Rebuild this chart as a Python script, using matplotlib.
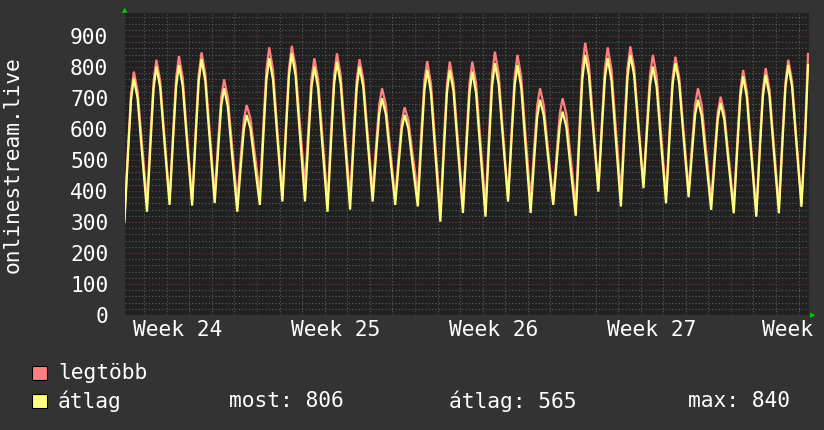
import matplotlib
matplotlib.use("Agg")
import matplotlib.pyplot as plt
import matplotlib.transforms as mtransforms
from matplotlib.patches import Rectangle

# samples taken at these hours of each day, days counted from the week 25 start
hours = [3, 7, 10, 13, 17, 21]
first_day = -6

# legtöbb (max) per day: trough, 7h, 10h, peak, 17h, 21h
max_rows = [
    [310, 548, 714, 785, 722, 575],
    [365, 594, 754, 823, 755, 597],
    [371, 603, 765, 835, 765, 602],
    [368, 608, 775, 847, 778, 617],
    [387, 574, 704, 760, 701, 563],
    [366, 522, 630, 677, 634, 535],
    [393, 628, 793, 863, 791, 622],
    [380, 624, 795, 868, 800, 641],
    [414, 621, 766, 828, 759, 597],
    [366, 605, 772, 844, 774, 610],
    [375, 600, 758, 825, 760, 609],
    [393, 562, 680, 731, 678, 554],
    [376, 523, 626, 670, 628, 530],
    [390, 605, 755, 819, 746, 576],
    [333, 575, 744, 817, 748, 586],
    [355, 586, 748, 817, 747, 584],
    [350, 600, 774, 849, 778, 612],
    [375, 607, 769, 839, 768, 603],
    [366, 549, 676, 731, 676, 549],
    [366, 533, 649, 699, 647, 525],
    [350, 614, 799, 878, 808, 644],
    [409, 636, 795, 863, 792, 627],
    [390, 628, 795, 866, 799, 643],
    [420, 630, 776, 839, 771, 612],
    [385, 609, 766, 833, 768, 617],
    [400, 566, 681, 731, 676, 549],
    [366, 535, 653, 704, 651, 527],
    [350, 570, 724, 790, 721, 562],
    [333, 565, 727, 796, 729, 573],
    [350, 587, 752, 823, 754, 592],
    [360, 602, 842],
]

# átlag (average) per day
avg_rows = [
    [300, 532, 694, 763, 699, 548],
    [333, 567, 731, 801, 734, 578],
    [355, 581, 738, 806, 738, 580],
    [353, 589, 754, 825, 755, 593],
    [361, 546, 676, 731, 671, 532],
    [333, 489, 598, 645, 602, 500],
    [355, 592, 757, 828, 759, 597],
    [366, 605, 772, 844, 772, 605],
    [366, 584, 736, 801, 731, 567],
    [333, 575, 744, 817, 745, 579],
    [340, 571, 732, 801, 736, 584],
    [366, 533, 649, 699, 647, 527],
    [355, 500, 602, 645, 601, 498],
    [350, 570, 724, 790, 717, 546],
    [301, 546, 717, 790, 721, 560],
    [329, 557, 717, 785, 715, 551],
    [317, 565, 738, 812, 745, 589],
    [366, 586, 740, 806, 734, 568],
    [329, 512, 639, 694, 643, 525],
    [355, 506, 611, 656, 606, 488],
    [320, 580, 761, 839, 773, 619],
    [398, 613, 764, 828, 756, 589],
    [350, 595, 766, 839, 775, 624],
    [409, 605, 742, 801, 735, 581],
    [360, 586, 744, 812, 747, 596],
    [380, 537, 647, 694, 641, 517],
    [339, 511, 631, 683, 630, 506],
    [328, 549, 703, 769, 701, 543],
    [317, 546, 705, 774, 707, 551],
    [328, 567, 734, 806, 737, 578],
    [349, 578, 806],
]

week_labels = ["Week 24", "Week 25", "Week 26", "Week 27"]
week_centers = [-3.5, 3.5, 10.5, 17.5]
last_label = "Week"   # "Week 28" is cut off at the image edge, only this part shows
y_label = "onlinestream.live"
legend_names = ["legtöbb", "átlag"]
legend_stats = ["most: 806", "átlag: 565", "max: 840"]

red = "#ff8080"
yellow = "#ffff80"
bg = "#333333"
canvas = "#212121"
font = "DejaVu Sans Mono"
fs = 15.3


def flatten(rows):
    t, v = [], []
    for i, row in enumerate(rows):
        d = first_day + i
        for h, val in zip(hours, row):
            t.append(d + h / 24)
            v.append(val)
    return t, v


t_max, v_max = flatten(max_rows)
t_avg, v_avg = flatten(avg_rows)

fig = plt.figure(figsize=(8.24, 4.30), dpi=100, facecolor=bg)
ax = fig.add_axes([125 / 824, 1 - 315 / 430, 684 / 824, 302 / 430])
ax.set_facecolor(canvas)

ax.plot(t_max, v_max, color=red, lw=1.6, solid_joinstyle="miter")
ax.plot(t_avg, v_avg, color=yellow, lw=1.6, solid_joinstyle="miter")

# grid: days / 20s grey, weeks / 100s red
ax.set_xticks(range(-7, 28, 7))
ax.set_xticks(range(-6, 25), minor=True)
ax.set_yticks(range(0, 1000, 100))
ax.set_yticks(range(0, 980, 20), minor=True)
ax.set_xlim(-5.85, 24.46)
ax.set_ylim(0, 974)
ax.grid(which="minor", color="#5c5c5c", lw=0.8, ls=(0, (1, 2)))
ax.grid(which="major", color="#7a3434", lw=0.8, ls=(0, (1, 2)))
ax.set_axisbelow(True)
ax.tick_params(which="both", length=0)
ax.tick_params(axis="y", colors="white", labelsize=fs, pad=12)
ax.set_xticklabels([])
for lab in ax.get_yticklabels():
    lab.set_fontfamily(font)
for s in ax.spines.values():
    s.set_visible(False)

trans = mtransforms.blended_transform_factory(ax.transData, ax.transAxes)
for x, lab in zip(week_centers, week_labels):
    ax.text(x, -0.05, lab, transform=trans, ha="center", va="center",
            color="white", fontsize=fs, family=font, clip_on=False)
ax.text(1.006, -0.05, last_label, transform=ax.transAxes, ha="right",
        va="center", color="white", fontsize=fs, family=font, clip_on=False)

fig.text(13 / 824, 1 - 165 / 430, y_label, rotation=90, ha="center",
         va="center", color="white", fontsize=fs, family=font)

# green arrows at the axis ends
fig.text(125 / 824, 1 - 10 / 430, "▲", color="#00cc00", fontsize=5,
         ha="center", va="center")
fig.text(813 / 824, 1 - 315 / 430, "▶", color="#00cc00", fontsize=5,
         ha="center", va="center")

# legend
for i, (name, col) in enumerate(zip(legend_names, [red, yellow])):
    yc = 1 - (373 + 28 * i) / 430
    fig.patches.append(Rectangle((32 / 824, yc - 7 / 430), 15 / 824, 14 / 430,
                                 transform=fig.transFigure, facecolor=col,
                                 edgecolor="black", lw=0.8))
    fig.text(58 / 824, yc, name, color="white", fontsize=fs, family=font,
             va="center")
for x, s in zip([229, 449, 688], legend_stats):
    fig.text(x / 824, 1 - 401 / 430, s, color="white", fontsize=fs,
             family=font, va="center")

fig.savefig("out.png", dpi=100, facecolor=bg)
